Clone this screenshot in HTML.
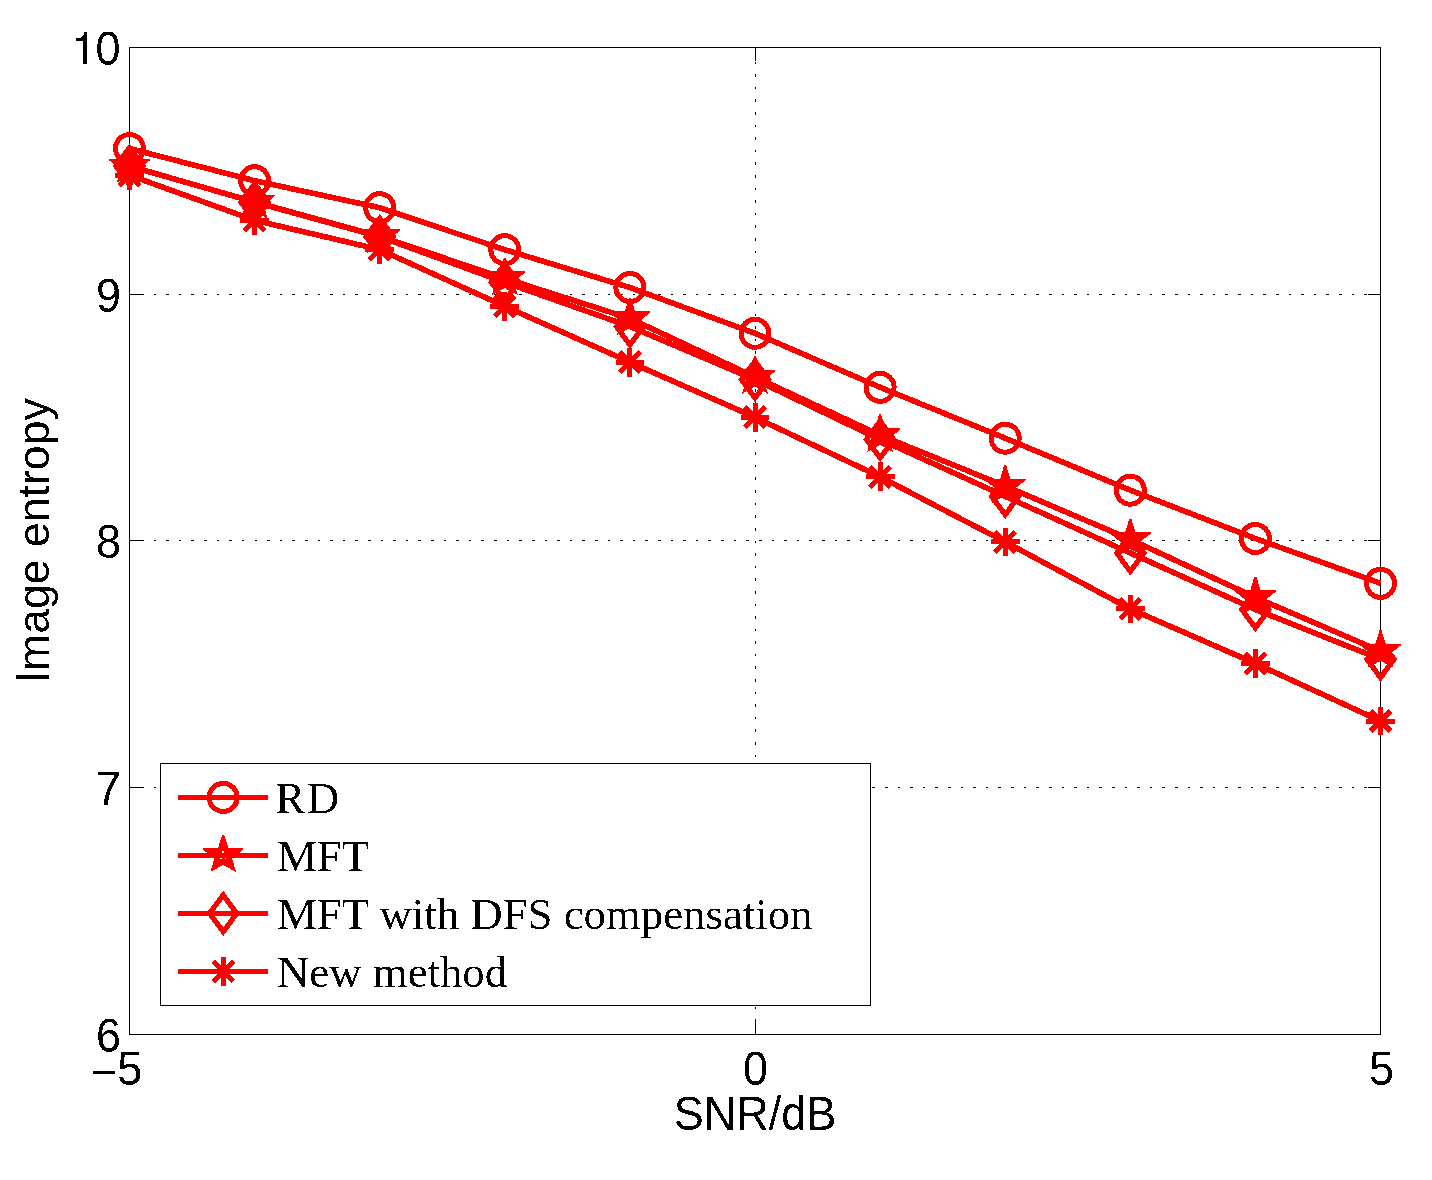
<!DOCTYPE html>
<html><head><meta charset="utf-8"><style>
html,body{margin:0;padding:0;background:#fff;overflow:hidden;}
svg{display:block;}
</style></head><body>
<svg width="1432" height="1180" viewBox="0 0 1432 1180">
<defs><filter id="th" filterUnits="userSpaceOnUse" x="0" y="0" width="1432" height="1180" color-interpolation-filters="sRGB">
<feComponentTransfer><feFuncA type="discrete" tableValues="0 1"/></feComponentTransfer></filter></defs>
<rect width="1432" height="1180" fill="#fff"/>
<g shape-rendering="crispEdges">
<line x1="129" y1="294.5" x2="1380" y2="294.5" stroke="#000" stroke-width="1" stroke-dasharray="2.6 10.01" stroke-dashoffset="0.6"/>
<line x1="129" y1="540.5" x2="1380" y2="540.5" stroke="#000" stroke-width="1" stroke-dasharray="2.6 10.01" stroke-dashoffset="0.6"/>
<line x1="129" y1="787.5" x2="1380" y2="787.5" stroke="#000" stroke-width="1" stroke-dasharray="2.6 10.01" stroke-dashoffset="0.6"/>
<line x1="755.5" y1="1034.5" x2="755.5" y2="47" stroke="#000" stroke-width="1" stroke-dasharray="2.6 10"/>
<rect x="129.5" y="47.5" width="1251" height="987" fill="none" stroke="#000" stroke-width="1"/>
<line x1="129" y1="294.5" x2="144" y2="294.5" stroke="#000" stroke-width="1"/>
<line x1="1368" y1="294.5" x2="1381" y2="294.5" stroke="#000" stroke-width="1"/>
<line x1="129" y1="540.5" x2="144" y2="540.5" stroke="#000" stroke-width="1"/>
<line x1="1368" y1="540.5" x2="1381" y2="540.5" stroke="#000" stroke-width="1"/>
<line x1="129" y1="787.5" x2="144" y2="787.5" stroke="#000" stroke-width="1"/>
<line x1="1368" y1="787.5" x2="1381" y2="787.5" stroke="#000" stroke-width="1"/>
<line x1="755.5" y1="47" x2="755.5" y2="61" stroke="#000" stroke-width="1"/>
<line x1="755.5" y1="1020" x2="755.5" y2="1035" stroke="#000" stroke-width="1"/>
<polyline points="129.50,148.50 254.60,180.70 379.70,207.70 504.80,249.70 629.90,287.50 755.00,333.30 880.10,387.30 1005.20,438.20 1130.30,490.20 1255.40,538.50 1380.50,583.30" fill="none" stroke="#ff0000" stroke-width="5.6" stroke-linejoin="round"/><circle cx="129.50" cy="148.50" r="14.0" fill="none" stroke="#ff0000" stroke-width="5.0"/><circle cx="254.60" cy="180.70" r="14.0" fill="none" stroke="#ff0000" stroke-width="5.0"/><circle cx="379.70" cy="207.70" r="14.0" fill="none" stroke="#ff0000" stroke-width="5.0"/><circle cx="504.80" cy="249.70" r="14.0" fill="none" stroke="#ff0000" stroke-width="5.0"/><circle cx="629.90" cy="287.50" r="14.0" fill="none" stroke="#ff0000" stroke-width="5.0"/><circle cx="755.00" cy="333.30" r="14.0" fill="none" stroke="#ff0000" stroke-width="5.0"/><circle cx="880.10" cy="387.30" r="14.0" fill="none" stroke="#ff0000" stroke-width="5.0"/><circle cx="1005.20" cy="438.20" r="14.0" fill="none" stroke="#ff0000" stroke-width="5.0"/><circle cx="1130.30" cy="490.20" r="14.0" fill="none" stroke="#ff0000" stroke-width="5.0"/><circle cx="1255.40" cy="538.50" r="14.0" fill="none" stroke="#ff0000" stroke-width="5.0"/><circle cx="1380.50" cy="583.30" r="14.0" fill="none" stroke="#ff0000" stroke-width="5.0"/>
<polyline points="129.50,166.20 254.60,201.90 379.70,236.30 504.80,278.40 629.90,318.40 755.00,377.00 880.10,435.20 1005.20,486.00 1130.30,539.40 1255.40,597.40 1380.50,651.20" fill="none" stroke="#ff0000" stroke-width="5.6" stroke-linejoin="round"/><polygon points="128.49,145.39 130.51,145.39 134.65,159.23 149.90,159.23 149.70,160.54 138.59,169.33 142.43,182.97 129.50,175.79 116.57,182.97 120.41,169.33 109.30,160.54 109.10,159.23 124.35,159.23" fill="#ff0000"/><polygon points="253.59,181.09 255.61,181.09 259.75,194.93 275.00,194.93 274.80,196.24 263.69,205.03 267.53,218.67 254.60,211.50 241.67,218.67 245.51,205.03 234.40,196.24 234.20,194.93 249.45,194.93" fill="#ff0000"/><polygon points="378.69,215.49 380.71,215.49 384.85,229.33 400.10,229.33 399.90,230.64 388.79,239.43 392.63,253.07 379.70,245.90 366.77,253.07 370.61,239.43 359.50,230.64 359.30,229.33 374.55,229.33" fill="#ff0000"/><polygon points="503.79,257.59 505.81,257.59 509.95,271.43 525.20,271.43 525.00,272.74 513.89,281.53 517.73,295.17 504.80,288.00 491.87,295.17 495.71,281.53 484.60,272.74 484.40,271.43 499.65,271.43" fill="#ff0000"/><polygon points="628.89,297.59 630.91,297.59 635.05,311.43 650.30,311.43 650.10,312.74 638.99,321.53 642.83,335.17 629.90,328.00 616.97,335.17 620.81,321.53 609.70,312.74 609.50,311.43 624.75,311.43" fill="#ff0000"/><polygon points="753.99,356.19 756.01,356.19 760.15,370.03 775.40,370.03 775.20,371.34 764.09,380.13 767.93,393.77 755.00,386.60 742.07,393.77 745.91,380.13 734.80,371.34 734.60,370.03 749.85,370.03" fill="#ff0000"/><polygon points="879.09,414.39 881.11,414.39 885.25,428.23 900.50,428.23 900.30,429.54 889.19,438.33 893.03,451.97 880.10,444.80 867.17,451.97 871.01,438.33 859.90,429.54 859.70,428.23 874.95,428.23" fill="#ff0000"/><polygon points="1004.19,465.19 1006.21,465.19 1010.35,479.03 1025.60,479.03 1025.40,480.34 1014.29,489.13 1018.13,502.77 1005.20,495.60 992.27,502.77 996.11,489.13 985.00,480.34 984.80,479.03 1000.05,479.03" fill="#ff0000"/><polygon points="1129.29,518.59 1131.31,518.59 1135.45,532.43 1150.70,532.43 1150.50,533.74 1139.39,542.53 1143.23,556.17 1130.30,549.00 1117.37,556.17 1121.21,542.53 1110.10,533.74 1109.90,532.43 1125.15,532.43" fill="#ff0000"/><polygon points="1254.39,576.59 1256.41,576.59 1260.55,590.43 1275.80,590.43 1275.60,591.74 1264.49,600.53 1268.33,614.17 1255.40,607.00 1242.47,614.17 1246.31,600.53 1235.20,591.74 1235.00,590.43 1250.25,590.43" fill="#ff0000"/><polygon points="1379.49,630.39 1381.51,630.39 1385.65,644.23 1400.90,644.23 1400.70,645.54 1389.59,654.33 1393.43,667.97 1380.50,660.80 1367.57,667.97 1371.41,654.33 1360.30,645.54 1360.10,644.23 1375.35,644.23" fill="#ff0000"/>
<polyline points="129.50,166.00 254.60,202.20 379.70,236.70 504.80,282.30 629.90,326.50 755.00,379.60 880.10,439.50 1005.20,496.30 1130.30,553.00 1255.40,609.50 1380.50,659.20" fill="none" stroke="#ff0000" stroke-width="5.6" stroke-linejoin="round"/><path d="M129.50,147.65 L143.10,166.00 L129.50,184.35 L115.90,166.00 Z" fill="none" stroke="#ff0000" stroke-width="5.2" stroke-linejoin="miter" stroke-miterlimit="10"/><path d="M254.60,183.85 L268.20,202.20 L254.60,220.55 L241.00,202.20 Z" fill="none" stroke="#ff0000" stroke-width="5.2" stroke-linejoin="miter" stroke-miterlimit="10"/><path d="M379.70,218.35 L393.30,236.70 L379.70,255.05 L366.10,236.70 Z" fill="none" stroke="#ff0000" stroke-width="5.2" stroke-linejoin="miter" stroke-miterlimit="10"/><path d="M504.80,263.95 L518.40,282.30 L504.80,300.65 L491.20,282.30 Z" fill="none" stroke="#ff0000" stroke-width="5.2" stroke-linejoin="miter" stroke-miterlimit="10"/><path d="M629.90,308.15 L643.50,326.50 L629.90,344.85 L616.30,326.50 Z" fill="none" stroke="#ff0000" stroke-width="5.2" stroke-linejoin="miter" stroke-miterlimit="10"/><path d="M755.00,361.25 L768.60,379.60 L755.00,397.95 L741.40,379.60 Z" fill="none" stroke="#ff0000" stroke-width="5.2" stroke-linejoin="miter" stroke-miterlimit="10"/><path d="M880.10,421.15 L893.70,439.50 L880.10,457.85 L866.50,439.50 Z" fill="none" stroke="#ff0000" stroke-width="5.2" stroke-linejoin="miter" stroke-miterlimit="10"/><path d="M1005.20,477.95 L1018.80,496.30 L1005.20,514.65 L991.60,496.30 Z" fill="none" stroke="#ff0000" stroke-width="5.2" stroke-linejoin="miter" stroke-miterlimit="10"/><path d="M1130.30,534.65 L1143.90,553.00 L1130.30,571.35 L1116.70,553.00 Z" fill="none" stroke="#ff0000" stroke-width="5.2" stroke-linejoin="miter" stroke-miterlimit="10"/><path d="M1255.40,591.15 L1269.00,609.50 L1255.40,627.85 L1241.80,609.50 Z" fill="none" stroke="#ff0000" stroke-width="5.2" stroke-linejoin="miter" stroke-miterlimit="10"/><path d="M1380.50,640.85 L1394.10,659.20 L1380.50,677.55 L1366.90,659.20 Z" fill="none" stroke="#ff0000" stroke-width="5.2" stroke-linejoin="miter" stroke-miterlimit="10"/>
<polyline points="129.50,175.20 254.60,220.30 379.70,249.60 504.80,306.30 629.90,362.20 755.00,417.30 880.10,476.80 1005.20,541.90 1130.30,608.90 1255.40,663.50 1380.50,721.00" fill="none" stroke="#ff0000" stroke-width="5.6" stroke-linejoin="round"/><path d="M129.50,160.80 V189.60 M115.10,175.20 H143.90 M119.32,165.02 L139.68,185.38 M119.32,185.38 L139.68,165.02" fill="none" stroke="#ff0000" stroke-width="5.0" stroke-linecap="butt"/><path d="M254.60,205.90 V234.70 M240.20,220.30 H269.00 M244.42,210.12 L264.78,230.48 M244.42,230.48 L264.78,210.12" fill="none" stroke="#ff0000" stroke-width="5.0" stroke-linecap="butt"/><path d="M379.70,235.20 V264.00 M365.30,249.60 H394.10 M369.52,239.42 L389.88,259.78 M369.52,259.78 L389.88,239.42" fill="none" stroke="#ff0000" stroke-width="5.0" stroke-linecap="butt"/><path d="M504.80,291.90 V320.70 M490.40,306.30 H519.20 M494.62,296.12 L514.98,316.48 M494.62,316.48 L514.98,296.12" fill="none" stroke="#ff0000" stroke-width="5.0" stroke-linecap="butt"/><path d="M629.90,347.80 V376.60 M615.50,362.20 H644.30 M619.72,352.02 L640.08,372.38 M619.72,372.38 L640.08,352.02" fill="none" stroke="#ff0000" stroke-width="5.0" stroke-linecap="butt"/><path d="M755.00,402.90 V431.70 M740.60,417.30 H769.40 M744.82,407.12 L765.18,427.48 M744.82,427.48 L765.18,407.12" fill="none" stroke="#ff0000" stroke-width="5.0" stroke-linecap="butt"/><path d="M880.10,462.40 V491.20 M865.70,476.80 H894.50 M869.92,466.62 L890.28,486.98 M869.92,486.98 L890.28,466.62" fill="none" stroke="#ff0000" stroke-width="5.0" stroke-linecap="butt"/><path d="M1005.20,527.50 V556.30 M990.80,541.90 H1019.60 M995.02,531.72 L1015.38,552.08 M995.02,552.08 L1015.38,531.72" fill="none" stroke="#ff0000" stroke-width="5.0" stroke-linecap="butt"/><path d="M1130.30,594.50 V623.30 M1115.90,608.90 H1144.70 M1120.12,598.72 L1140.48,619.08 M1120.12,619.08 L1140.48,598.72" fill="none" stroke="#ff0000" stroke-width="5.0" stroke-linecap="butt"/><path d="M1255.40,649.10 V677.90 M1241.00,663.50 H1269.80 M1245.22,653.32 L1265.58,673.68 M1245.22,673.68 L1265.58,653.32" fill="none" stroke="#ff0000" stroke-width="5.0" stroke-linecap="butt"/><path d="M1380.50,706.60 V735.40 M1366.10,721.00 H1394.90 M1370.32,710.82 L1390.68,731.18 M1370.32,731.18 L1390.68,710.82" fill="none" stroke="#ff0000" stroke-width="5.0" stroke-linecap="butt"/>
<rect x="160.5" y="763.5" width="710" height="242" fill="#fff" stroke="#000" stroke-width="1"/>
<line x1="178" y1="797.4" x2="268" y2="797.4" stroke="#ff0000" stroke-width="5.0"/>
<circle cx="223.20" cy="797.40" r="14.0" fill="none" stroke="#ff0000" stroke-width="5.0"/>
<line x1="178" y1="855.4" x2="268" y2="855.4" stroke="#ff0000" stroke-width="5.0"/>
<polygon points="222.20,834.80 224.20,834.80 228.30,847.90 243.40,847.90 243.20,849.80 232.20,858.50 236.00,872.00 223.20,864.90 210.40,872.00 214.20,858.50 203.20,849.80 203.00,847.90 218.10,847.90" fill="#ff0000"/>
<rect x="222" y="851" width="2" height="2" fill="#fff"/><rect x="220" y="858" width="2" height="1" fill="#fff"/><rect x="225" y="858" width="1" height="1" fill="#fff"/>
<line x1="178" y1="913.4" x2="268" y2="913.4" stroke="#ff0000" stroke-width="5.0"/>
<path d="M223.20,895.05 L236.80,913.40 L223.20,931.75 L209.60,913.40 Z" fill="none" stroke="#ff0000" stroke-width="5.2" stroke-linejoin="miter" stroke-miterlimit="10"/>
<line x1="178" y1="971.4" x2="268" y2="971.4" stroke="#ff0000" stroke-width="5.0"/>
<path d="M223.20,957.00 V985.80 M208.80,971.40 H237.60 M213.02,961.22 L233.38,981.58 M213.02,981.58 L233.38,961.22" fill="none" stroke="#ff0000" stroke-width="5.0" stroke-linecap="butt"/>
</g>
<g filter="url(#th)" fill="#000">
<text x="275.2" y="812.8" font-family='"Liberation Serif", serif' font-size="44.8" letter-spacing="1.6">RD</text>
<text x="277" y="870.8" font-family='"Liberation Serif", serif' font-size="44.8">MFT</text>
<text x="277" y="928.8" font-family='"Liberation Serif", serif' font-size="44.8">MFT with DFS compensation</text>
<text x="277" y="986.8" font-family='"Liberation Serif", serif' font-size="44.8">New method</text>
<text transform="translate(120.5,64.8) scale(1,1.07)" text-anchor="end" font-family='"Liberation Sans", sans-serif' font-size="45">0</text>
<polygon points="75.9,37.9 80.9,37.9 84,34.8 84,32 87.1,32 87.1,64.3 82.9,64.3 82.9,40.9 75.9,40.9"/>
<text transform="translate(121,311.9) scale(1,1.07)" text-anchor="end" font-family='"Liberation Sans", sans-serif' font-size="45">9</text>
<text transform="translate(121,557.9) scale(1,1.07)" text-anchor="end" font-family='"Liberation Sans", sans-serif' font-size="45">8</text>
<text transform="translate(121,804.9) scale(1,1.07)" text-anchor="end" font-family='"Liberation Sans", sans-serif' font-size="45">7</text>
<text transform="translate(121,1051.9) scale(1,1.07)" text-anchor="end" font-family='"Liberation Sans", sans-serif' font-size="45">6</text>
<text transform="translate(129.8,1084.8) scale(1,1.07)" text-anchor="middle" font-family='"Liberation Sans", sans-serif' font-size="45">5</text>
<text transform="translate(104,1089.4) scale(1,1.07)" text-anchor="middle" font-family='"Liberation Sans", sans-serif' font-size="45">&#8722;</text>
<text transform="translate(755.5,1084.8) scale(1,1.07)" text-anchor="middle" font-family='"Liberation Sans", sans-serif' font-size="45">0</text>
<text transform="translate(1381.5,1084.8) scale(1,1.07)" text-anchor="middle" font-family='"Liberation Sans", sans-serif' font-size="45">5</text>
<text transform="translate(755.0,1130.1) scale(1,1.07)" text-anchor="middle" font-family='"Liberation Sans", sans-serif' font-size="45">SNR/dB</text>
<text transform="translate(49,683.3) rotate(-90) scale(1,1.07)" font-family='"Liberation Sans", sans-serif' font-size="44.6">I</text>
<text transform="translate(49,670.9) rotate(-90) scale(1,0.985)" font-family='"Liberation Sans", sans-serif' font-size="44.6">mage entropy</text>
</g>
</svg>
</body></html>
